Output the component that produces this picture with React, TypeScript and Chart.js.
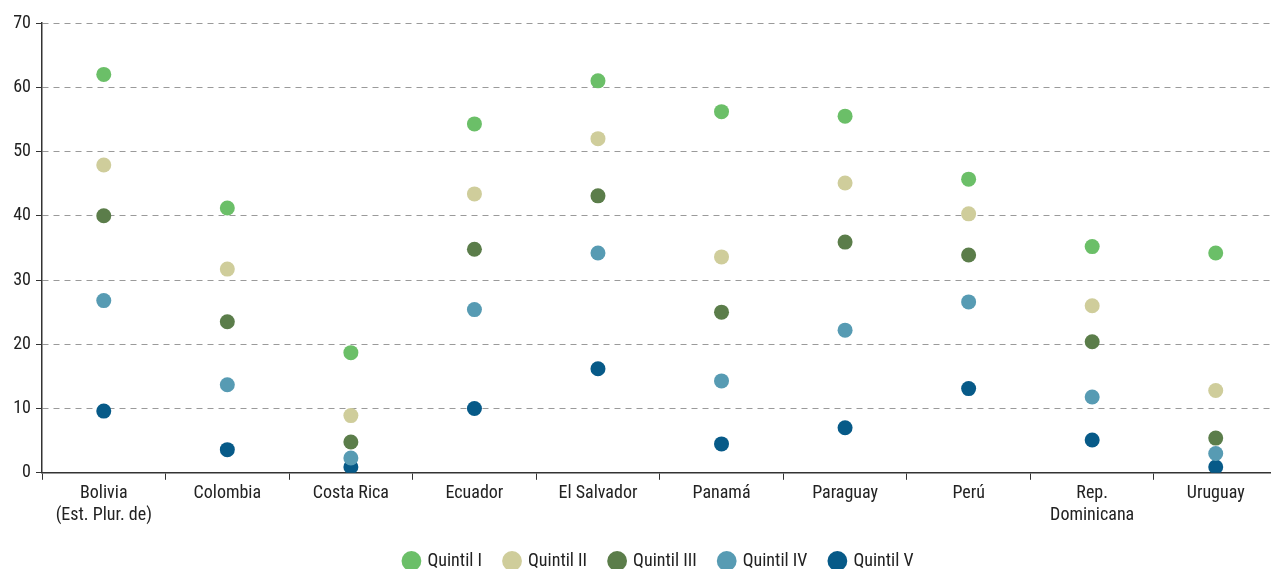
import React, { useEffect, useRef } from "react";
import { Chart, registerables } from "chart.js";

Chart.register(...registerables);

const categories: (string | string[])[] = [
  ["Bolivia", "(Est. Plur. de)"],
  "Colombia",
  "Costa Rica",
  "Ecuador",
  "El Salvador",
  "Panamá",
  "Paraguay",
  "Perú",
  ["Rep.", "Dominicana"],
  "Uruguay",
];

const quintilI = [62.0, 41.2, 18.7, 54.3, 61.0, 56.2, 55.5, 45.7, 35.2, 34.2];
const quintilII = [47.9, 31.7, 8.9, 43.4, 52.0, 33.6, 45.1, 40.3, 26.0, 12.8];
const quintilIII = [40.0, 23.5, 4.8, 34.8, 43.1, 25.0, 35.9, 33.9, 20.4, 5.4];
const quintilIV = [26.8, 13.7, 2.3, 25.4, 34.2, 14.3, 22.2, 26.6, 11.8, 3.0];
const quintilV = [9.6, 3.6, 0.9, 10.0, 16.2, 4.5, 7.0, 13.1, 5.1, 0.9];

const seriesNames = ["Quintil I", "Quintil II", "Quintil III", "Quintil IV", "Quintil V"];
const seriesColors = ["#6bbf68", "#cfcd9b", "#5b7d4a", "#579bb3", "#075a88"];

const FONT = '"Liberation Sans Narrow", "Roboto Condensed", "Arial Narrow", Roboto, sans-serif';

const CANVAS_W = 1285;
const CANVAS_H = 569;

const legendShift = {
  id: "legendShift",
  afterLayout(chart: any) {
    const l = chart.legend;
    if (!l) return;
    l.left += 20;
    l.right += 20;
  },
};

export default function App() {
  const ref = useRef<HTMLCanvasElement | null>(null);

  useEffect(() => {
    document.body.style.margin = "0";
    document.body.style.overflow = "hidden";
    const ctx = ref.current;
    if (!ctx) return;
    const values = [quintilI, quintilII, quintilIII, quintilIV, quintilV];
    const chart = new Chart(ctx, {
      type: "line",
      data: {
        labels: categories,
        datasets: values.map((v, i) => ({
          label: seriesNames[i],
          data: v,
          showLine: false,
          backgroundColor: seriesColors[i],
          borderColor: seriesColors[i],
          pointRadius: 7.5,
          pointHoverRadius: 7.5,
          pointBorderWidth: 0,
          pointStyle: "circle",
        })),
      },
      plugins: [legendShift],
      options: {
        animation: false,
        responsive: false,
        maintainAspectRatio: false,
        layout: { padding: { top: 23, right: 7, left: 0, bottom: -11 } },
        plugins: {
          tooltip: { enabled: false },
          legend: {
            position: "bottom",
            labels: {
              usePointStyle: true,
              pointStyle: "circle",
              boxWidth: 14,
              boxHeight: 14,
              padding: 23,
              color: "#222",
              font: { family: FONT, size: 18 },
            },
          },
        },
        scales: {
          x: {
            type: "category",
            offset: true,
            border: { display: true, color: "#333", width: 1.5 },
            grid: {
              display: true,
              drawOnChartArea: false,
              drawTicks: true,
              tickLength: 7,
              tickColor: "#333",
              offset: true,
            },
            ticks: {
              color: "#222",
              padding: 3,
              maxRotation: 0,
              autoSkip: false,
              font: { family: FONT, size: 18, lineHeight: 1.2 },
            },
          },
          y: {
            min: 0,
            max: 70,
            border: { display: true, color: "#333", width: 1.5, dash: [6, 5] },
            grid: {
              color: (c: any) => (c.tick && c.tick.value === 0 ? "rgba(0,0,0,0)" : "#9a9a9a"),
              tickBorderDash: [],
              tickColor: "#333",
              tickLength: 6,
              lineWidth: 1,
            },
            ticks: {
              stepSize: 10,
              color: "#222",
              padding: 5,
              font: { family: FONT, size: 18 },
            },
            afterFit: (s: any) => {
              s.width = 42;
            },
          },
        },
      },
    });
    return () => chart.destroy();
  }, []);

  return (
    <div style={{ position: "absolute", left: 0, top: 0, width: 1271, height: 569, overflow: "hidden" }}>
      <canvas ref={ref} width={CANVAS_W} height={CANVAS_H} style={{ display: "block" }} />
    </div>
  );
}
